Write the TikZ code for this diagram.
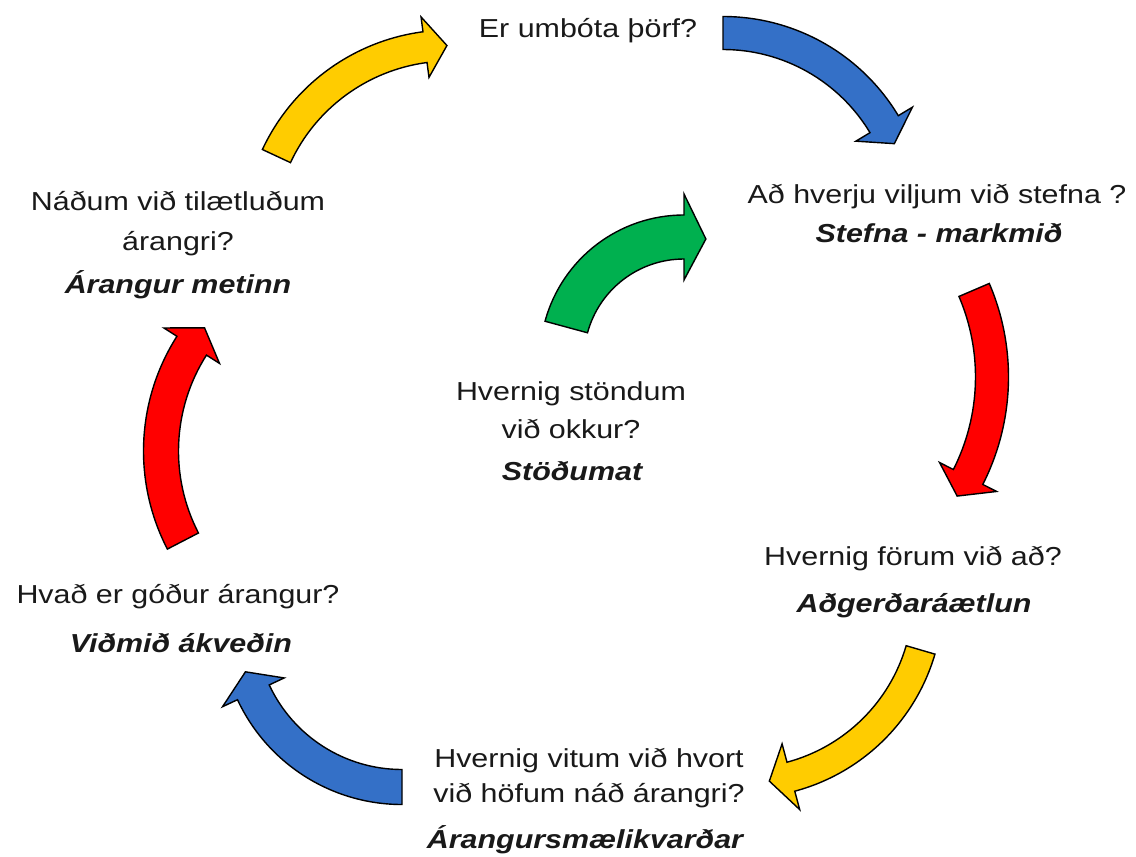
\documentclass[tikz,border=0pt]{standalone}
\usepackage{fontspec}
\setsansfont{Liberation Sans}[FakeStretch=1.17]
\usepackage{tikz}
\usetikzlibrary{calc,positioning}
\definecolor{cyyellow}{HTML}{FFCC00}
\definecolor{cyblue}{HTML}{3470C7}
\definecolor{cyred}{HTML}{FF0000}
\definecolor{cygreen}{HTML}{00B04F}
\newcommand{\headlen}{22}
% #1 centre, #2 radius, #3 start angle, #4 end angle, #5 half width, #6 half head, #7 colour
\newcommand{\cyclearrow}[7]{%
  \pgfmathsetmacro\ringout{#2+#5}%
  \pgfmathsetmacro\ringin{#2-#5}%
  \pgfmathsetmacro\barbout{#2+#6}%
  \pgfmathsetmacro\barbin{#2-#6}%
  \pgfmathsetmacro\tipang{#4-\headlen/#2*57.2958}%
  \filldraw[abody, fill=#7, shift={(#1)}]
    (#3:\ringout) arc[start angle=#3, end angle=#4, radius=\ringout]
    -- (#4:\barbout) -- (\tipang:#2) -- (#4:\barbin) -- (#4:\ringin)
    arc[start angle=#4, end angle=#3, radius=\ringin] -- cycle;
}

\begin{document}
\begin{tikzpicture}[x=0.5pt, y=0.5pt]
      %%%%%%%%%%%%%%%%%%%%%%%%%%%%%%%%%%%%%%%%%%%%%%%%%%
      %% improvement cycle
      %%%%%%%%%%%%%%%%%%%%%%%%%%%%%%%%%%%%%%%%%%%%%%%%%%
      \tikzstyle{ask} = [font=\sffamily\fontsize{13}{15}\selectfont, anchor=base, inner sep=0pt, text=black!90]
      \tikzstyle{key} = [ask, font=\sffamily\fontsize{13}{15}\selectfont\bfseries\itshape]
      \tikzstyle{abody} = [draw=black, line width=0.7pt, line join=miter]
      \useasboundingbox (0,0) rectangle (1136,-857);
      % questions and stages
      \node[ask] (q1) at (588,-37) {Er umbóta þörf?};
      \node[ask] (q2) at (937,-203) {Að hverju viljum við stefna ?};
      \node[key] (k2) at (939,-242) {Stefna - markmið};
      \node[ask] (q3) at (913,-565) {Hvernig förum við að?};
      \node[key] (k3) at (914,-612) {Aðgerðaráætlun};
      \node[ask] (q4a) at (589,-767) {Hvernig vitum við hvort};
      \node[ask] (q4b) at (589,-802) {við höfum náð árangri?};
      \node[key] (k4) at (585,-848) {Árangursmælikvarðar};
      \node[ask] (q5) at (178,-603) {Hvað er góður árangur?};
      \node[key] (k5) at (181,-652) {Viðmið ákveðin};
      \node[ask] (q6a) at (178,-210) {Náðum við tilætluðum};
      \node[ask] (q6b) at (178,-250) {árangri?};
      \node[key] (k6) at (178,-293) {Árangur metinn};
      \node[ask] (q7a) at (571,-400) {Hvernig stöndum};
      \node[ask] (q7b) at (571,-438) {við okkur?};
      \node[key] (k7) at (572,-480) {Stöðumat};
      % arrow centres
      \coordinate (c61) at (450,-237);
      \coordinate (c12) at (723,-221);
      \coordinate (c23) at (771,-377);
      \coordinate (c34) at (743,-598);
      \coordinate (c45) at (402,-623);
      \coordinate (c56) at (357,-451);
      \coordinate (c72) at (684,-359);
      % arrows
      \cyclearrow{c61}{191.5}{155}{97.5}{15.5}{30.5}{cyyellow}
      \cyclearrow{c12}{188}{90}{31}{16.5}{33}{cyblue}
      \cyclearrow{c23}{221}{23.2}{-26.9}{16.5}{32}{cyred}
      \cyclearrow{c34}{185}{-16.3}{-75}{15}{34}{cyyellow}
      \cyclearrow{c45}{164}{-90}{-155}{17.5}{34}{cyblue}
      \cyclearrow{c56}{196}{207.35}{147.5}{17.5}{33}{cyred}
      \cyclearrow{c72}{122}{164.8}{90}{22}{43}{cygreen}
\end{tikzpicture}
\end{document}
